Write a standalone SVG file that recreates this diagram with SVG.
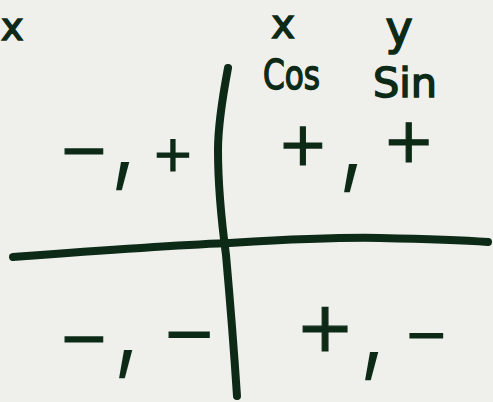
<svg xmlns="http://www.w3.org/2000/svg" width="493" height="402" viewBox="0 0 493 402">
<style>
.bg{fill:#efefec}
.ax{fill:none;stroke:#0c2a16;stroke-width:8;stroke-linecap:round;stroke-linejoin:round}
.lbl{font-family:"DejaVu Sans",sans-serif;fill:#0c2a16;stroke:#0c2a16;stroke-width:1.5}
.sg{font-family:"DejaVu Sans",sans-serif;fill:#0c2a16;stroke:#0c2a16;stroke-width:1.2;text-anchor:middle}
.cm{font-family:"Inter","Roboto",sans-serif;font-weight:300;font-size:110px;stroke-width:0}
</style>
<rect class="bg" x="0" y="0" width="493" height="402"/>
<g id="axes">
<path class="ax" d="M228,68 C222,100 218,125 218,150 C218,190 222,225 226,255 C230,300 234,350 237,396"/>
<path class="ax" d="M13,257 C80,252 160,246 227,243 C280,240 330,237 380,238 C430,239 460,240 488,242"/>
</g>
<g id="labels">
<text class="lbl" x="1" y="40" font-size="38">x</text>
<text class="lbl" x="283" y="38" font-size="40" text-anchor="middle">x</text>
<text class="lbl" x="399" y="44" font-size="46" text-anchor="middle">y</text>
<text class="lbl" x="263" y="89" font-size="40" textLength="57" lengthAdjust="spacingAndGlyphs">Cos</text>
<text class="lbl" x="373" y="97" font-size="40" textLength="64" lengthAdjust="spacingAndGlyphs">Sin</text>
</g>
<g id="q2">
<text class="sg"><tspan x="84" y="170" font-size="60">−</tspan><tspan class="cm" x="124" y="172">,</tspan><tspan x="165" y="171" font-size="50"> +</tspan></text>
</g>
<g id="q1">
<text class="sg"><tspan x="303" y="165" font-size="60">+</tspan><tspan class="cm" x="352" y="174">,</tspan><tspan x="399" y="162" font-size="62"> +</tspan></text>
</g>
<g id="q3">
<text class="sg"><tspan x="84" y="358" font-size="60">−</tspan><tspan class="cm" x="127" y="360">,</tspan><tspan x="179" y="355" font-size="64"> −</tspan></text>
</g>
<g id="q4">
<text class="sg"><tspan x="325" y="351" font-size="70">+</tspan><tspan class="cm" x="373" y="362">,</tspan><tspan x="418" y="352" font-size="52"> −</tspan></text>
</g>
</svg>
